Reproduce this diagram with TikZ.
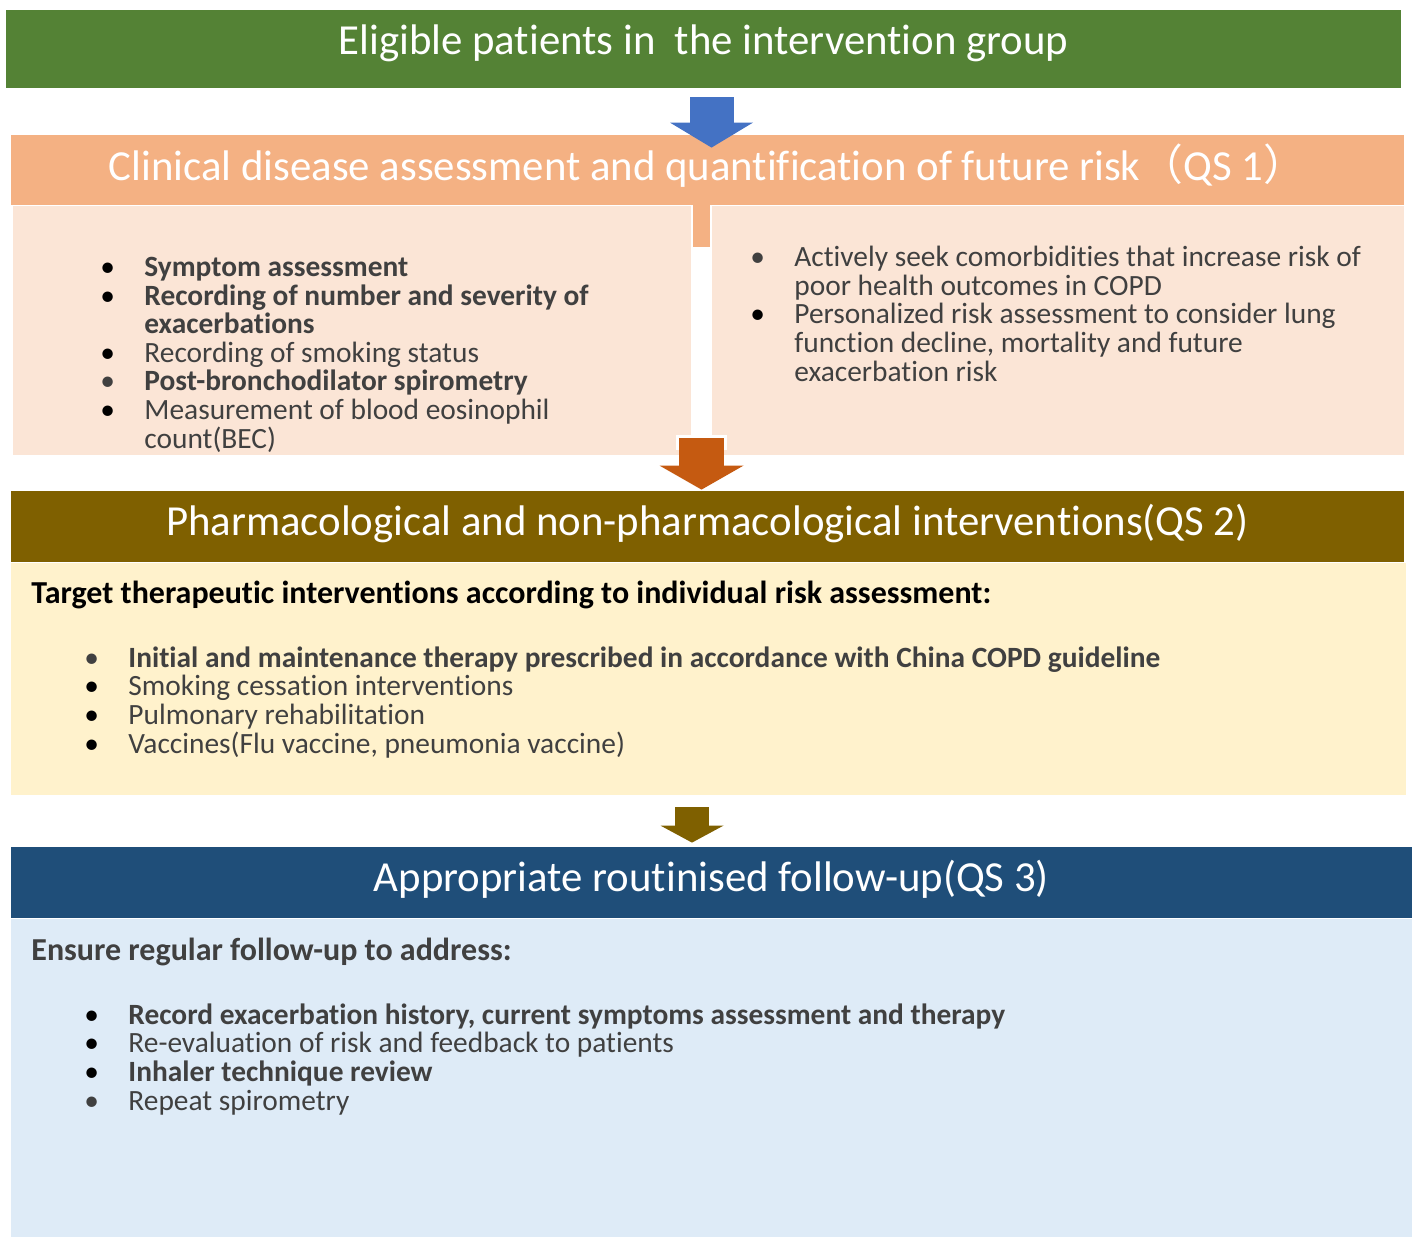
\documentclass[tikz,border=0pt]{standalone}
\usepackage{fontspec}
\setmainfont{Carlito}[Ligatures=NoCommon]
\newfontfamily\cjk{Noto Sans CJK SC}
\usetikzlibrary{arrows.meta}

\definecolor{qsgreen}{HTML}{548235}
\definecolor{qsblue}{HTML}{4472C4}
\definecolor{qssalmon}{HTML}{F4B183}
\definecolor{qssalmonlt}{HTML}{FBE5D6}
\definecolor{qsorange}{HTML}{C55A11}
\definecolor{qsbrown}{HTML}{7F6000}
\definecolor{qsyellow}{HTML}{FFF2CC}
\definecolor{qsnavy}{HTML}{1F4E79}
\definecolor{qsblueli}{HTML}{DEEBF7}
\definecolor{txtgray}{HTML}{404040}

% bullet with its gap, and the indent of a wrapped line
\newcommand\bul[1][black]{\makebox[22pt][l]{\color{#1}•}}
\newcommand\cont{\hspace*{22pt}}

\begin{document}
\begin{tikzpicture}[x=0.5pt, y=-0.5pt,
	header/.style={rectangle, inner sep=0pt, text=white, text height=14pt, text depth=5pt,
		font=\fontsize{21.4pt}{24pt}\selectfont},
	panel/.style={rectangle, inner sep=0pt},
	list/.style={anchor=base west, align=left, inner sep=0pt, text=txtgray,
		font=\fontsize{14.7pt}{14.3pt}\selectfont},
	listhead/.style={list, font=\fontsize{16pt}{18pt}\selectfont\bfseries}]
	\useasboundingbox (0,0) rectangle (1412,1237);

	% the four stages
	\node [header, fill=qsgreen, text depth=9pt, minimum width=697.5pt, minimum height=39pt] (elig) at (703.5,49)
		{Eligible patients in\ \ the intervention group};
	\node [header, fill=qssalmon, text depth=3.5pt, minimum width=696.5pt, minimum height=35pt] (assess) at (707.5,170)
		{Clinical disease assessment and quantification of future risk{\cjk （}QS 1{\cjk ）}};
	\node [panel, fill=qssalmonlt, minimum width=339pt, minimum height=124.5pt] (left) at (352,330.5) {};
	\node [panel, fill=qssalmonlt, minimum width=346pt, minimum height=124.5pt] (right) at (1058,330.5) {};
	\fill [qssalmon] (693,205) rectangle (710,247);

	\node [header, fill=qsbrown, minimum width=696.5pt, minimum height=35.5pt] (pharm) at (707.5,526.5)
		{Pharmacological and non-pharmacological interventions(QS 2)};
	\node [panel, fill=qsyellow, minimum width=697.5pt, minimum height=116pt] (target) at (708.5,679) {};

	\node [header, fill=qsnavy, minimum width=700.5pt, minimum height=35.5pt] (follow) at (711.5,882.5)
		{Appropriate routinised follow-up(QS 3)};
	\node [panel, fill=qsblueli, minimum width=700.5pt, minimum height=159pt] (ensure) at (711.5,1078) {};

	% block arrows between the stages
	\draw [qsblue, line width=22pt, -{Triangle[width=41.5pt, length=12.5pt, line width=0pt]}]
		([xshift=4pt, yshift=-4.5pt]elig.south) -- ([xshift=2pt, yshift=-6.5pt]assess.north);
	\coordinate (gap) at (701.5,438);
	\draw [qsorange, line width=22.5pt, -{Triangle[width=42pt, length=12pt, line width=0pt]},
		preaction={draw=white, line width=25.5pt, shorten <=-1.5pt, shorten >=20pt, arrows=-}]
		(gap) -- ([yshift=0.5pt]gap |- pharm.north);
	\draw [qsbrown, line width=17pt, -{Triangle[width=31.5pt, length=8.5pt, line width=0pt]}]
		([xshift=-8.25pt, yshift=-6pt]target.south) -- ([xshift=-9.75pt, yshift=2pt]follow.north);

	% stage 1 lists (placed by the baseline of their last line)
	\node [list] (symptoms) at (100,448) {%
		\bul\textbf{Symptom assessment}\\
		\bul\textbf{Recording of number and severity of}\\
		\cont\textbf{exacerbations}\\
		\bul Recording of smoking status\\
		\bul[txtgray]\textbf{Post-bronchodilator spirometry}\\
		\bul Measurement of blood eosinophil\\
		\cont count(BEC)};
	\node [list] (comorb) at (750,381) {%
		\bul[txtgray]Actively seek comorbidities that increase risk of\\
		\cont poor health outcomes in COPD\\
		\bul Personalized risk assessment to consider lung\\
		\cont function decline, mortality and future\\
		\cont exacerbation risk};

	% stage 2 list
	\node [listhead, text=black] (targethead) at (31,603)
		{Target therapeutic interventions according to individual risk assessment:};
	\node [list] (therapy) at (84,753) {%
		\bul[txtgray]\textbf{Initial and maintenance therapy prescribed in accordance with China COPD guideline}\\
		\bul Smoking cessation interventions\\
		\bul Pulmonary rehabilitation\\
		\bul Vaccines(Flu vaccine, pneumonia vaccine)};

	% stage 3 list
	\node [listhead] (ensurehead) at (31,960) {Ensure regular follow-up to address:};
	\node [list] (review) at (84,1110) {%
		\bul\textbf{Record exacerbation history, current symptoms assessment and therapy}\\
		\bul Re-evaluation of risk and feedback to patients\\
		\bul\textbf{Inhaler technique review}\\
		\bul[txtgray]Repeat spirometry};
\end{tikzpicture}
\end{document}
